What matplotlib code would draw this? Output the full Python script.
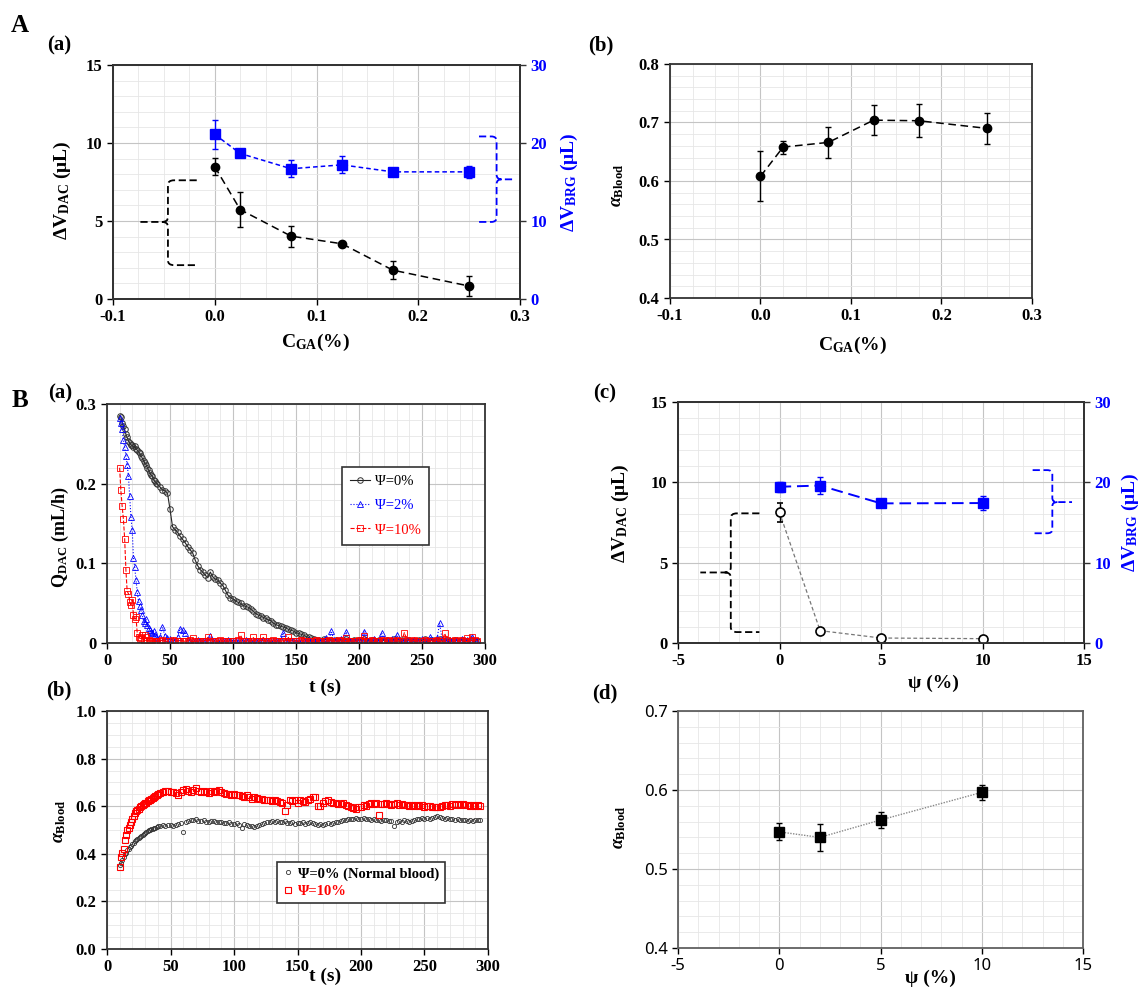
import numpy as np
import matplotlib
matplotlib.use("Agg")
import matplotlib.pyplot as plt
from matplotlib.ticker import MultipleLocator, FormatStrFormatter, FuncFormatter
from matplotlib.path import Path
from matplotlib.patches import PathPatch

plt.rcParams['font.family'] = 'Liberation Serif'
plt.rcParams['font.weight'] = 'bold'
plt.rcParams['axes.unicode_minus'] = False
plt.rcParams['mathtext.fontset'] = 'custom'
plt.rcParams['mathtext.rm'] = 'Liberation Serif:bold'
plt.rcParams['mathtext.bf'] = 'Liberation Serif:bold'
plt.rcParams['mathtext.it'] = 'Liberation Serif:italic:bold'

# ---- panel A data (glutaraldehyde concentration) ----
cga = [0, 0.025, 0.075, 0.125, 0.175, 0.25]
dv_dac_a = [8.48, 5.73, 4.03, 3.54, 1.85, 0.83]
dv_dac_a_err = [0.55, 1.13, 0.68, 0.12, 0.58, 0.64]
dv_brg_a = [21.1, 18.66, 16.7, 17.2, 16.3, 16.3]
dv_brg_a_err = [1.9, 0.5, 1.07, 1.07, 0.5, 0.77]
alpha_a = [0.608, 0.658, 0.666, 0.704, 0.703, 0.690]
alpha_a_err = [0.043, 0.011, 0.027, 0.026, 0.028, 0.026]

# ---- panel B(c),(d) data (hematocrit of hardened RBCs) ----
psi = [0, 2, 5, 10]
dv_dac_b = [8.13, 0.77, 0.31, 0.27]
dv_dac_b_err = [0.6, 0.08, 0.08, 0.08]
dv_brg_b = [19.45, 19.6, 17.38, 17.42]
dv_brg_b_err = [0.6, 1.08, 0.4, 0.9]
alpha_b = [0.547, 0.540, 0.562, 0.597]
alpha_b_err = [0.0106, 0.0173, 0.0097, 0.0097]

# ---- panel B(a),(b) time series: 1 s steps up to 39 s, then 2 s steps ----
t = np.concatenate([np.arange(10, 40), np.arange(40, 295, 2)])

q_psi0 = [0.285, 0.284, 0.276, 0.272, 0.268, 0.262, 0.258, 0.254, 0.251, 0.249,
          0.248, 0.246, 0.247, 0.244, 0.242, 0.240, 0.238, 0.235, 0.232, 0.229,
          0.226, 0.224, 0.220, 0.217, 0.214, 0.211, 0.209, 0.205, 0.203, 0.201,
          0.199, 0.196, 0.192, 0.191, 0.188, 0.168, 0.146, 0.142, 0.139, 0.134,
          0.130, 0.126, 0.121, 0.117, 0.113, 0.104, 0.097, 0.092, 0.089, 0.085,
          0.082, 0.089, 0.083, 0.080, 0.079, 0.075, 0.072, 0.066, 0.060, 0.057,
          0.055, 0.053, 0.051, 0.050, 0.047, 0.046, 0.045, 0.043, 0.040, 0.037,
          0.035, 0.034, 0.032, 0.031, 0.029, 0.028, 0.025, 0.023, 0.022, 0.021,
          0.020, 0.019, 0.017, 0.016, 0.015, 0.013, 0.012, 0.011, 0.010, 0.008,
          0.007, 0.006, 0.005, 0.004, 0.004, 0.003, 0.005, 0.004, 0.003, 0.004,
          0.003, 0.004, 0.002, 0.004, 0.003, 0.005, 0.003, 0.002, 0.004, 0.003,
          0.004, 0.003, 0.005, 0.002, 0.003, 0.004, 0.002, 0.003, 0.004, 0.003,
          0.003, 0.004, 0.002, 0.003, 0.005, 0.003, 0.002, 0.004, 0.003, 0.003,
          0.004, 0.003, 0.002, 0.003, 0.004, 0.003, 0.005, 0.002, 0.003, 0.004,
          0.003, 0.004, 0.005, 0.003, 0.002, 0.004, 0.003, 0.002, 0.004, 0.003,
          0.003, 0.004, 0.002, 0.003, 0.004, 0.003, 0.002, 0.003]

q_psi2 = [0.283, 0.276, 0.268, 0.255, 0.246, 0.235, 0.224, 0.210, 0.184, 0.158,
          0.142, 0.107, 0.095, 0.079, 0.064, 0.053, 0.046, 0.041, 0.035, 0.028,
          0.025, 0.030, 0.022, 0.019, 0.016, 0.014, 0.012, 0.015, 0.010, 0.008,
          0.006, 0.008, 0.020, 0.009, 0.006, 0.005, 0.004, 0.003, 0.008, 0.018,
          0.016, 0.012, 0.004, 0.003, 0.002, 0.003, 0.004, 0.002, 0.003, 0.002,
          0.003, 0.009, 0.002, 0.003, 0.001, 0.002, 0.003, 0.002, 0.004, 0.002,
          0.003, 0.002, 0.001, 0.003, 0.002, 0.004, 0.002, 0.003, 0.001, 0.002,
          0.003, 0.002, 0.004, 0.002, 0.003, 0.001, 0.002, 0.003, 0.002, 0.004,
          0.013, 0.003, 0.002, 0.004, 0.002, 0.003, 0.001, 0.002, 0.003, 0.002,
          0.004, 0.002, 0.003, 0.001, 0.003, 0.002, 0.004, 0.006, 0.003, 0.015,
          0.004, 0.003, 0.002, 0.005, 0.003, 0.014, 0.004, 0.003, 0.002, 0.003,
          0.004, 0.003, 0.014, 0.004, 0.002, 0.003, 0.005, 0.002, 0.003, 0.013,
          0.004, 0.003, 0.002, 0.005, 0.003, 0.010, 0.004, 0.002, 0.003, 0.004,
          0.003, 0.002, 0.004, 0.003, 0.002, 0.005, 0.003, 0.002, 0.008, 0.004,
          0.003, 0.006, 0.025, 0.004, 0.003, 0.002, 0.004, 0.003, 0.002, 0.004,
          0.003, 0.005, 0.002, 0.004, 0.003, 0.008, 0.004, 0.003]

q_psi10 = [0.220, 0.192, 0.172, 0.156, 0.131, 0.092, 0.065, 0.062, 0.052, 0.048,
           0.054, 0.035, 0.030, 0.033, 0.012, 0.008, 0.005, 0.006, 0.010, 0.004,
           0.010, 0.007, 0.003, 0.004, 0.002, 0.003, 0.002, 0.003, 0.001, 0.002,
           0.003, 0.002, 0.004, 0.003, 0.002, 0.003, 0.004, 0.002, 0.003, 0.002,
           0.003, 0.002, 0.003, 0.004, 0.006, 0.003, 0.002, 0.003, 0.002, 0.003,
           0.007, 0.003, 0.002, 0.003, 0.002, 0.004, 0.002, 0.003, 0.002, 0.003,
           0.002, 0.003, 0.004, 0.010, 0.003, 0.002, 0.003, 0.002, 0.007, 0.003,
           0.002, 0.003, 0.007, 0.002, 0.003, 0.002, 0.004, 0.002, 0.003, 0.002,
           0.003, 0.002, 0.007, 0.003, 0.002, 0.003, 0.002, 0.004, 0.002, 0.003,
           0.002, 0.003, 0.002, 0.004, 0.002, 0.003, 0.002, 0.003, 0.004, 0.002,
           0.003, 0.002, 0.004, 0.002, 0.003, 0.006, 0.003, 0.002, 0.003, 0.002,
           0.004, 0.002, 0.009, 0.003, 0.002, 0.004, 0.002, 0.003, 0.002, 0.004,
           0.003, 0.002, 0.004, 0.003, 0.002, 0.004, 0.002, 0.003, 0.013, 0.004,
           0.003, 0.002, 0.004, 0.002, 0.003, 0.002, 0.004, 0.003, 0.002, 0.003,
           0.002, 0.004, 0.003, 0.002, 0.012, 0.004, 0.003, 0.002, 0.004, 0.003,
           0.002, 0.004, 0.003, 0.006, 0.003, 0.007, 0.004, 0.003]

a_psi0 = [0.355, 0.362, 0.375, 0.388, 0.398, 0.405, 0.415, 0.420, 0.428, 0.432,
          0.440, 0.445, 0.452, 0.458, 0.462, 0.468, 0.470, 0.476, 0.480, 0.483,
          0.488, 0.492, 0.495, 0.498, 0.502, 0.505, 0.503, 0.508, 0.510, 0.512,
          0.515, 0.518, 0.520, 0.518, 0.522, 0.519, 0.515, 0.522, 0.526, 0.530,
          0.490, 0.532, 0.538, 0.542, 0.540, 0.545, 0.538, 0.536, 0.540, 0.535,
          0.533, 0.536, 0.538, 0.534, 0.532, 0.535, 0.530, 0.528, 0.532, 0.526,
          0.525, 0.528, 0.522, 0.510, 0.524, 0.520, 0.518, 0.515, 0.514, 0.518,
          0.520, 0.525, 0.528, 0.535, 0.532, 0.538, 0.534, 0.536, 0.532, 0.535,
          0.537, 0.530, 0.528, 0.532, 0.526, 0.530, 0.528, 0.532, 0.527, 0.530,
          0.533, 0.528, 0.525, 0.522, 0.526, 0.520, 0.524, 0.528, 0.525, 0.530,
          0.532, 0.535, 0.538, 0.540, 0.542, 0.545, 0.548, 0.545, 0.550, 0.546,
          0.548, 0.552, 0.545, 0.548, 0.543, 0.546, 0.540, 0.544, 0.538, 0.542,
          0.540, 0.536, 0.538, 0.515, 0.535, 0.538, 0.532, 0.540, 0.536, 0.533,
          0.538, 0.542, 0.548, 0.545, 0.550, 0.548, 0.552, 0.546, 0.550, 0.555,
          0.558, 0.555, 0.552, 0.548, 0.550, 0.545, 0.548, 0.542, 0.546, 0.540,
          0.544, 0.540, 0.538, 0.542, 0.537, 0.540, 0.543, 0.540]

a_psi10 = [0.345, 0.385, 0.405, 0.420, 0.460, 0.478, 0.498, 0.510, 0.522, 0.535,
           0.548, 0.560, 0.572, 0.578, 0.585, 0.590, 0.596, 0.600, 0.605, 0.608,
           0.612, 0.615, 0.620, 0.624, 0.628, 0.632, 0.636, 0.640, 0.643, 0.646,
           0.650, 0.655, 0.660, 0.662, 0.665, 0.660, 0.658, 0.655, 0.648, 0.660,
           0.668, 0.672, 0.665, 0.660, 0.668, 0.676, 0.662, 0.658, 0.664, 0.660,
           0.656, 0.662, 0.658, 0.665, 0.668, 0.660, 0.655, 0.650, 0.652, 0.648,
           0.650, 0.645, 0.648, 0.642, 0.640, 0.645, 0.638, 0.632, 0.640, 0.635,
           0.630, 0.632, 0.628, 0.625, 0.628, 0.622, 0.625, 0.620, 0.618, 0.612,
           0.580, 0.605, 0.628, 0.620, 0.625, 0.615, 0.628, 0.622, 0.618, 0.625,
           0.630, 0.638, 0.640, 0.600, 0.602, 0.612, 0.620, 0.625, 0.618, 0.615,
           0.612, 0.610, 0.608, 0.612, 0.605, 0.600, 0.595, 0.592, 0.590, 0.595,
           0.598, 0.605, 0.600, 0.608, 0.612, 0.610, 0.614, 0.565, 0.610, 0.608,
           0.612, 0.610, 0.606, 0.608, 0.612, 0.605, 0.608, 0.604, 0.606, 0.602,
           0.605, 0.602, 0.606, 0.600, 0.603, 0.598, 0.602, 0.600, 0.596, 0.598,
           0.595, 0.598, 0.600, 0.604, 0.606, 0.602, 0.608, 0.605, 0.610, 0.606,
           0.608, 0.604, 0.606, 0.602, 0.605, 0.600, 0.603, 0.600]

W, H = 1143, 988
fig = plt.figure(figsize=(W / 100, H / 100), dpi=100)
SPINE = '#333333'


def px_axes(x0, x1, y0, y1):
    return fig.add_axes([x0 / W, 1 - y1 / H, (x1 - x0) / W, (y1 - y0) / H])


def px_text(x, y, s, size, color='black', rot=0, **kw):
    fig.text(x / W, 1 - y / H, s, fontsize=size, color=color, rotation=rot,
             ha='center', va='center', **kw)


def style(ax, xmaj, xmin, ymaj, ymin):
    ax.xaxis.set_major_locator(MultipleLocator(xmaj))
    ax.xaxis.set_minor_locator(MultipleLocator(xmin))
    ax.yaxis.set_major_locator(MultipleLocator(ymaj))
    ax.yaxis.set_minor_locator(MultipleLocator(ymin))
    ax.grid(which='major', color='#c4c4c4', lw=0.8)
    ax.grid(which='minor', color='#e6e6e6', lw=0.6)
    ax.set_axisbelow(True)
    ax.tick_params(which='major', direction='out', length=4, width=1, labelsize=12)
    ax.tick_params(which='minor', length=0)
    for sp in ax.spines.values():
        sp.set_color(SPINE)
        sp.set_linewidth(1.3)


def brace(ax, xb, xe, xt, yt, yb, ym, rx, ry, color):
    # curly bracket: vertical back at xb, arms reaching xe, tip at xt
    s = 1 if xe > xb else -1
    verts = [(xe, yt), (xb + s * rx, yt), (xb, yt), (xb, yt - ry), (xb, ym + ry),
             (xb, ym), (xb - s * rx, ym), (xt, ym),
             (xb - s * rx, ym), (xb, ym), (xb, ym - ry), (xb, yb + ry),
             (xb, yb), (xb + s * rx, yb), (xe, yb)]
    M, L, C = Path.MOVETO, Path.LINETO, Path.CURVE3
    codes = [M, L, C, C, L, C, C, L, M, C, C, L, C, C, L]
    ax.add_patch(PathPatch(Path(verts, codes), fill=False, ec=color, lw=1.3,
                           ls=(0, (4, 2)), clip_on=False, zorder=5))


def right_axis(ax, top):
    ax2 = ax.twinx()
    ax2.set_ylim(0, top)
    ax2.yaxis.set_major_locator(MultipleLocator(10))
    ax2.yaxis.set_major_formatter(FormatStrFormatter('%d'))
    ax2.tick_params(axis='y', direction='out', length=4, width=1, labelsize=12,
                    labelcolor='blue', color=SPINE)
    for sp in ax2.spines.values():
        sp.set_color(SPINE)
        sp.set_linewidth(1.3)
    return ax2


# ================= A(a) =================
ax = px_axes(113, 520, 65, 299)
style(ax, 0.1, 0.025, 5, 1)
ax.set_xlim(-0.1, 0.3)
ax.set_ylim(0, 15)
ax.xaxis.set_major_formatter(FormatStrFormatter('%.1f'))
ax.yaxis.set_major_formatter(FormatStrFormatter('%d'))
ax.plot(cga, dv_dac_a, color='black', lw=1.1, ls=(0, (5, 3)), zorder=3)
ax.errorbar(cga, dv_dac_a, yerr=dv_dac_a_err, fmt='o', color='black', ms=6,
            capsize=2.5, elinewidth=1, capthick=1, zorder=4)
brace(ax, -0.046, -0.0177, -0.075, 7.61, 2.17, 4.94, 0.006, 0.3, 'black')
brace(ax, 0.277, 0.2597, 0.294, 10.42, 4.94, 7.67, 0.005, 0.3, 'blue')
ax2 = right_axis(ax, 30)
ax2.plot(cga, dv_brg_a, color='blue', lw=1.1, ls=(0, (3, 2)), zorder=3)
ax2.errorbar(cga, dv_brg_a, yerr=dv_brg_a_err, fmt='s', color='blue', ms=6.5,
             capsize=2.5, elinewidth=1, capthick=1, zorder=4)

# ================= A(b) =================
ax = px_axes(670, 1032, 64, 298)
style(ax, 0.1, 0.025, 0.1, 0.02)
ax.set_xlim(-0.1, 0.3)
ax.set_ylim(0.4, 0.8)
ax.xaxis.set_major_formatter(FormatStrFormatter('%.1f'))
ax.yaxis.set_major_formatter(FormatStrFormatter('%.1f'))
ax.plot(cga, alpha_a, color='black', lw=1.1, ls=(0, (5, 3)), zorder=3)
ax.errorbar(cga, alpha_a, yerr=alpha_a_err, fmt='o', color='black', ms=6,
            capsize=2.5, elinewidth=1, capthick=1, zorder=4)

# ================= B(a) =================
ax = px_axes(107, 485, 404, 643)
style(ax, 50, 10, 0.1, 0.02)
ax.set_xlim(0, 300)
ax.set_ylim(0, 0.3)
ax.yaxis.set_major_formatter(FuncFormatter(lambda v, p: '0' if abs(v) < 1e-9 else f'{v:.1f}'))
ax.plot(t, q_psi0, ls='-', color='#222222', lw=0.8, marker='o', ms=4,
        mfc='none', mec='#333333', mew=0.7, label='Ψ=0%')
ax.plot(t, q_psi2, ls=':', color='blue', lw=0.8, marker='^', ms=4,
        mfc='none', mec='blue', mew=0.6, label='Ψ=2%')
ax.plot(t, q_psi10, ls='--', color='red', lw=0.8, marker='s', ms=4,
        mfc='none', mec='red', mew=0.6, label='Ψ=10%')
leg = ax.legend(loc='upper left', bbox_to_anchor=((342 - 107) / 378, 1 - (467 - 404) / 239),
                prop={'family': 'Liberation Serif', 'weight': 'normal', 'size': 10.5},
                fancybox=False, framealpha=1, edgecolor=SPINE, handlelength=1.4,
                handletextpad=0.3, borderpad=0.55, labelspacing=0.75, borderaxespad=0)
leg.get_frame().set_linewidth(1.2)
for txt, c in zip(leg.get_texts(), ['black', 'blue', 'red']):
    txt.set_color(c)

# ================= B(b) =================
ax = px_axes(107, 488, 711, 949)
style(ax, 50, 10, 0.2, 0.05)
ax.set_xlim(0, 300)
ax.set_ylim(0, 1.0)
ax.yaxis.set_major_formatter(FormatStrFormatter('%.1f'))
ax.plot(t, a_psi0, ls='none', marker='o', ms=3, mfc='none', mec='#333333',
        mew=0.6, label='Ψ=0% (Normal blood)')
ax.plot(t, a_psi10, ls='none', marker='s', ms=4.5, mfc='none', mec='red',
        mew=0.8, label='Ψ=10%')
leg = ax.legend(loc='upper left', bbox_to_anchor=((277 - 107) / 381, 1 - (862 - 711) / 238),
                prop={'family': 'Liberation Serif', 'weight': 'bold', 'size': 10.5},
                fancybox=False, framealpha=1, edgecolor=SPINE, handlelength=0.8,
                handletextpad=0.3, borderpad=0.35, labelspacing=0.3, borderaxespad=0)
leg.get_frame().set_linewidth(1.2)
for txt, c in zip(leg.get_texts(), ['black', 'red']):
    txt.set_color(c)

# ================= B(c) =================
ax = px_axes(678, 1084, 402, 643)
style(ax, 5, 1, 5, 1)
ax.set_xlim(-5, 15)
ax.set_ylim(0, 15)
ax.xaxis.set_major_formatter(FormatStrFormatter('%d'))
ax.yaxis.set_major_formatter(FormatStrFormatter('%d'))
ax.plot(psi, dv_dac_b, color='#777777', lw=0.9, ls=(0, (3, 2)), zorder=3)
ax.errorbar(psi, dv_dac_b, yerr=dv_dac_b_err, fmt='o', color='black', ms=6.5,
            mfc='white', mew=1.2, capsize=2.5, elinewidth=1, capthick=1, zorder=4)
brace(ax, -2.40, -0.99, -3.90, 8.07, 0.68, 4.39, 0.3, 0.3, 'black')
brace(ax, 13.44, 12.47, 14.41, 10.76, 6.83, 8.77, 0.25, 0.25, 'blue')
ax2 = right_axis(ax, 30)
ax2.plot(psi, dv_brg_b, color='blue', lw=1.4, ls=(0, (6, 3)), zorder=3)
ax2.errorbar(psi, dv_brg_b, yerr=dv_brg_b_err, fmt='s', color='blue', ms=7,
             capsize=2.5, elinewidth=1, capthick=1, zorder=4)

# ================= B(d) =================
ax = px_axes(678, 1083, 711, 948)
style(ax, 5, 1, 0.1, 0.02)
ax.set_xlim(-5, 15)
ax.set_ylim(0.4, 0.7)
for sp in ax.spines.values():
    sp.set_color('#606060')
xt = np.arange(-5, 16, 5)
yt = np.arange(0.4, 0.71, 0.1)
ax.set_xticks(xt)
ax.set_xticklabels([f'{v:d}' for v in xt], fontfamily='Noto Sans', fontweight='normal', fontsize=12)
ax.set_yticks(yt)
ax.set_yticklabels([f'{v:.1f}' for v in yt], fontfamily='Noto Sans', fontweight='normal', fontsize=12)
ax.plot(psi, alpha_b, color='#888888', lw=1.0, ls=(0, (1, 1)), zorder=3)
ax.errorbar(psi, alpha_b, yerr=alpha_b_err, fmt='s', color='black', ms=6.5,
            capsize=2.5, elinewidth=1, capthick=1, zorder=4)

# ================= text labels =================
px_text(20, 25, 'A', 18)
px_text(20, 400, 'B', 18)
px_text(59, 45, '(a)', 15)
px_text(601, 45, '(b)', 15)
px_text(60, 393, '(a)', 15)
px_text(59, 690, '(b)', 15)
px_text(605, 393, '(c)', 15)
px_text(605, 693, '(d)', 15)

px_text(62, 190, r'ΔV$_{\mathbf{DAC}}$ (μL)', 14, rot=90)
px_text(569, 182, r'ΔV$_{\mathbf{BRG}}$ (μL)', 14, color='blue', rot=90)
px_text(618, 185, r'$\alpha_{\mathbf{Blood}}$', 13, rot=90)
px_text(60, 537, r'Q$_{\mathbf{DAC}}$ (mL/h)', 13, rot=90)
px_text(59, 821, r'$\alpha_{\mathbf{Blood}}$', 13, rot=90)
px_text(620, 513, r'ΔV$_{\mathbf{DAC}}$ (μL)', 14, rot=90)
px_text(1130, 522, r'ΔV$_{\mathbf{BRG}}$ (μL)', 14, color='blue', rot=90)
px_text(619, 827, r'$\alpha_{\mathbf{Blood}}$', 13, rot=90)

px_text(315, 342, r'C$_{\mathbf{GA}}$(%)', 14)
px_text(852, 345, r'C$_{\mathbf{GA}}$(%)', 14)
px_text(325, 687, 't (s)', 14)
px_text(325, 976, 't (s)', 14)
px_text(933, 683, 'ψ (%)', 14)
px_text(930, 978, 'ψ (%)', 14)

fig.savefig('out.png', dpi=100)
